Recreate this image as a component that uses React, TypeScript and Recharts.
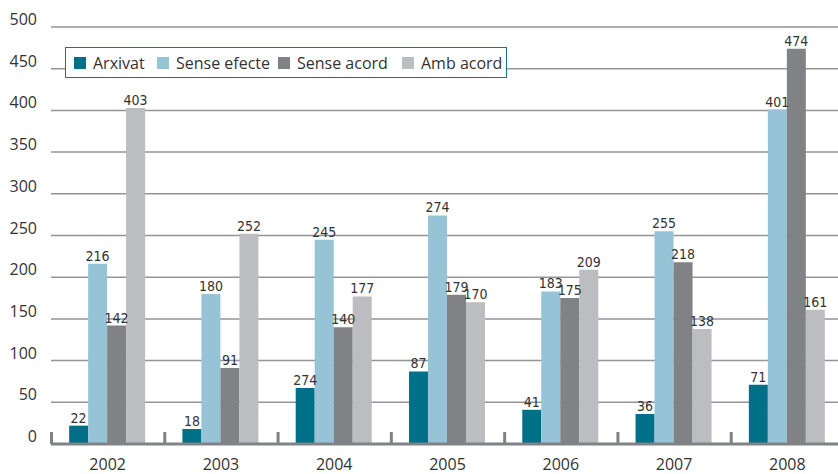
import React from 'react';
import { BarChart, Bar, XAxis, YAxis, CartesianGrid, Legend, LabelList } from 'recharts';

const years = ['2002', '2003', '2004', '2005', '2006', '2007', '2008'];
const arxivat = [22, 18, 67, 87, 41, 36, 71];
// the source prints 274 on the 2004 bar, kept as printed
const arxivatLabels = ['22', '18', '274', '87', '41', '36', '71'];
const senseEfecte = [216, 180, 245, 274, 183, 255, 401];
const senseAcord = [142, 91, 140, 179, 175, 218, 474];
const ambAcord = [403, 252, 177, 170, 209, 138, 161];
const yTicks = [0, 50, 100, 150, 200, 250, 300, 350, 400, 450, 500];

const series = [
  { key: 'arxivat', name: 'Arxivat', color: '#006f88', label: 'arxivatLabel', w: 83 },
  { key: 'senseEfecte', name: 'Sense efecte', color: '#96c4d6', label: 'senseEfecte', w: 121 },
  { key: 'senseAcord', name: 'Sense acord', color: '#808285', label: 'senseAcord', w: 124 },
  { key: 'ambAcord', name: 'Amb acord', color: '#bcbdc1', label: 'ambAcord', w: 100 },
];

const data = years.map((year, i) => ({
  year,
  arxivat: arxivat[i],
  arxivatLabel: arxivatLabels[i],
  senseEfecte: senseEfecte[i],
  senseAcord: senseAcord[i],
  ambAcord: ambAcord[i],
}));

const textColor = '#333333';
const axisFont = '"Open Sans", "DejaVu Sans", sans-serif';
const labelFont = '"Liberation Sans Narrow", "DejaVu Sans Condensed", sans-serif';
const band = (844 - 51) / years.length;

const YTick = (props: any) => {
  const { x, y, payload } = props;
  return (
    <text x={x} y={y - 2} textAnchor="end" fill={textColor} fontSize={16} fontFamily={axisFont}>
      {payload.value}
    </text>
  );
};

const XTick = (props: any) => {
  const { x, y, payload } = props;
  return (
    <g>
      <rect x={x - band / 2 - 1} y={y - 12} width={3} height={12} fill="#808285" />
      <text x={x} y={y + 26} textAnchor="middle" fill={textColor} fontSize={16} fontFamily={axisFont}>
        {payload.value}
      </text>
    </g>
  );
};

const renderLegend = () => (
  <div
    style={{
      display: 'flex',
      alignItems: 'center',
      width: 442,
      height: 31,
      boxSizing: 'border-box',
      border: '1.5px solid #1a7389',
      background: '#fff',
      paddingLeft: 8,
      fontFamily: axisFont,
      fontSize: 16,
      color: textColor,
      whiteSpace: 'nowrap',
    }}
  >
    {series.map((s) => (
      <div key={s.key} style={{ display: 'flex', alignItems: 'center', width: s.w, flexShrink: 0 }}>
        <span style={{ width: 12, height: 12, background: s.color, marginRight: 7, display: 'inline-block', flexShrink: 0 }} />
        <span>{s.name}</span>
      </div>
    ))}
  </div>
);

const App = () => {
  return (
    <div style={{ position: 'absolute', left: 0, top: 0, width: 838, height: 474, overflow: 'hidden', background: '#fff' }}>
      <BarChart
        width={844}
        height={474}
        data={data}
        margin={{ top: 27, right: 0, bottom: 0, left: 0 }}
        barCategoryGap="16%"
        barGap={0}
      >
        <CartesianGrid vertical={false} stroke="#939598" strokeWidth={1.5} />
        <XAxis
          dataKey="year"
          height={30}
          axisLine={{ stroke: '#808285', strokeWidth: 3 }}
          tickLine={false}
          tickSize={0}
          tickMargin={0}
          tick={<XTick />}
          interval={0}
        />
        <YAxis
          width={51}
          domain={[0, 500]}
          ticks={yTicks}
          axisLine={false}
          tickLine={false}
          tickSize={0}
          tickMargin={14}
          tick={<YTick />}
          interval={0}
        />
        <Legend
          content={renderLegend}
          layout="horizontal"
          verticalAlign="middle"
          align="center"
          wrapperStyle={{ position: 'absolute', left: 65, top: 47, width: 442 }}
        />
        {series.map((s) => (
          <Bar key={s.key} dataKey={s.key} name={s.name} fill={s.color} isAnimationActive={false}>
            <LabelList
              dataKey={s.label}
              position="top"
              offset={3}
              fill={textColor}
              fontSize={14}
              fontFamily={labelFont}
            />
          </Bar>
        ))}
      </BarChart>
    </div>
  );
};

export default App;
